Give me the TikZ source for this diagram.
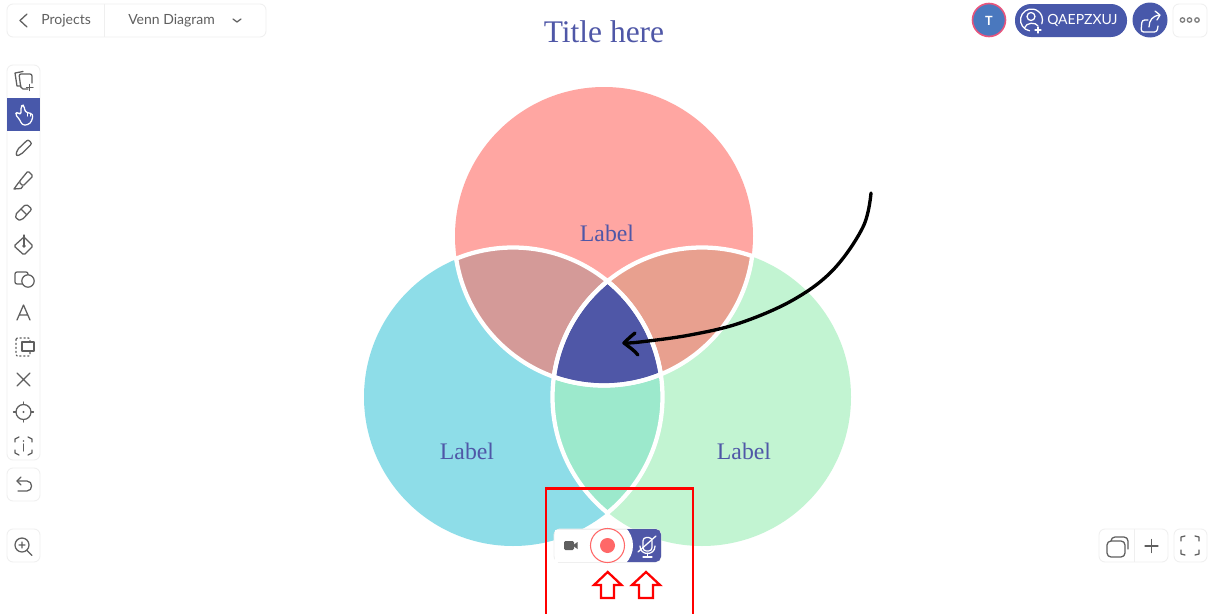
\documentclass[tikz,border=0pt]{standalone}
\usepackage{fontspec}
\setmainfont{Liberation Serif}
\newfontfamily\uifont{Lato}
\definecolor{navy}{HTML}{4F57A7}
\definecolor{pill}{HTML}{4858AA}
\definecolor{pinkc}{HTML}{FFA6A2}
\definecolor{cyanc}{HTML}{8EDDE8}
\definecolor{greenc}{HTML}{C2F4D2}
\definecolor{tl}{HTML}{D49A98}
\definecolor{tr}{HTML}{E8A08F}
\definecolor{lr}{HTML}{9CE9CC}
\definecolor{icon}{HTML}{5F5F5F}
\definecolor{frame}{HTML}{EFEFEF}
\definecolor{recc}{HTML}{FF6868}
\definecolor{avatar}{HTML}{4A78BE}
\definecolor{avring}{HTML}{E8557D}
\newcommand{\topc}{(604,236) circle (149)}
\newcommand{\leftc}{(513,397) circle (149)}
\newcommand{\rightc}{(702,397) circle (149)}
\newcommand{\topw}{(604,236) circle (149.5)}
\newcommand{\leftw}{(513,397) circle (149.5)}
\newcommand{\rightw}{(702,397) circle (149.5)}
\newcommand{\topk}{(604,236) circle (151.5)}
\newcommand{\leftk}{(513,397) circle (151.5)}
\newcommand{\rightk}{(702,397) circle (151.5)}
\tikzset{
  panel/.style={draw=frame,fill=white,line width=0.6pt,rounded corners=4.5},
  ic/.style={draw=icon,line width=0.95pt,line cap=round,line join=round},
  icw/.style={draw=white,line width=0.95pt,line cap=round,line join=round},
  venn/.style={white,line width=3.2pt},
  redline/.style={draw=red,line width=1.9pt},
  redup/.style={draw=red,fill=white,line width=1.7pt,miter limit=10},
  biglabel/.style={text=navy,font=\fontsize{17.8}{20}\selectfont,inner sep=0pt},
  uilabel/.style={text=icon,font=\uifont\fontsize{10.5}{12}\selectfont,inner sep=0pt,anchor=west},
}
\begin{document}
\begin{tikzpicture}[x=0.75pt,y=-0.75pt]
\useasboundingbox (0,0) rectangle (1208,614);
\fill[white] (0,0) rectangle (1208,614);
% Venn fills
\fill[cyanc] \leftc;
\fill[greenc] \rightc;
\fill[pinkc] \topc;
\begin{scope}\clip \topc; \fill[tl] \leftc; \end{scope}
\begin{scope}\clip \topc; \fill[tr] \rightc; \end{scope}
\begin{scope}\clip \leftc; \fill[lr] \rightc; \end{scope}
\begin{scope}\clip \topc; \clip \leftc; \fill[navy] \rightc; \end{scope}
% white borders inside the overlaps
\begin{scope}\clip \leftk; \draw[venn] \topw; \end{scope}
\begin{scope}\clip \rightk; \draw[venn] \topw; \end{scope}
\begin{scope}\clip \topk; \draw[venn] \leftw; \end{scope}
\begin{scope}\clip \rightk; \draw[venn] \leftw; \end{scope}
\begin{scope}\clip \topk; \draw[venn] \rightw; \end{scope}
\begin{scope}\clip \leftk; \draw[venn] \rightw; \end{scope}
% Texts
\node[text=navy,font=\fontsize{23.6}{26}\selectfont,inner sep=0pt] (title) at (604,32) {Title here};
\node[biglabel] (labtop) at (607,233) {Label};
\node[biglabel] (lableft) at (467,451) {Label};
\node[biglabel] (labright) at (744,451) {Label};
% Hand-drawn arrow
\coordinate (arrowstart) at (871,193);
\coordinate (arrowtip) at (624,343);
\draw[black,line width=2.5pt,line cap=round,line join=round]
  plot[smooth,tension=0.6] coordinates {(arrowstart) (863,227) (833,270) (793,300) (740,323) (690,335) (640,342) (arrowtip)};
\draw[black,line width=2.5pt,line cap=round,line join=round]
  (635,333) .. controls (630,337) and (627,340) .. (arrowtip)
  .. controls (629,347) and (634,350) .. (638,355);
% Top-left bar
\draw[panel] (7,4) rectangle (266,37);
\draw[frame,line width=0.6pt] (104,4) -- (104,37);
\draw[ic] (27,14) -- (20,20.5) -- (27,27);
\node[uilabel] (projects) at (41,21) {Projects};
\node[uilabel] (venn) at (128,20.5) {Venn Diagram};
\draw[ic] (233,19) -- (237,22) -- (241,19);
% Left toolbar
\draw[panel] (7,65) rectangle (40,460);
\fill[pill] (7,98) rectangle (40,131);
% add page
\draw[ic] (21,86) -- (17,86) -- (15,73) -- (23,71.5);
\draw[ic,rounded corners=1.5] (28,89) -- (21,89) -- (19,74) -- (32,74) -- (32,83);
\draw[ic] (26.5,87.5) -- (33,87.5) (29.8,84.5) -- (29.8,90.5);
% hand
\draw[icw,rounded corners=2] (20,120) -- (15,114) -- (18,112) -- (21,115) -- (21,106) -- (24,105) -- (25,112) -- (33,114) -- (32,121) -- (28,125) -- (22,125) -- cycle;
\draw[icw] (27.5,112.5) -- (27.5,116) (30.5,113.5) -- (30.5,116);
% pen
\draw[ic,rounded corners=1.5] (16,156) -- (17,150) -- (28,139.5) -- (32,143.5) -- (21,154.5) -- cycle;
% highlighter
\draw[ic,rounded corners=1] (19,182) -- (28,171) -- (33,176) -- (23,186) -- cycle;
\draw[ic] (19,182) -- (14,189) -- (21,188.5) -- (23,186);
% eraser
\draw[ic,rounded corners=1.5] (15,215) -- (26,204) -- (32,209) -- (22,220) -- (17,220) -- cycle;
\draw[ic] (21,209) -- (27,215);
% fill bucket
\draw[ic,rounded corners=1] (14,246) -- (24,237) -- (33,246) -- (24,255) -- cycle;
\draw[ic] (24,235) -- (24,246);
\fill[icon] (24,246) circle (1.8);
% shapes
\draw[ic,rounded corners=1.5] (15,272) rectangle (28,284);
\fill[white] (28,281) circle (6.2);
\draw[ic] (28,281) circle (6.2);
% letter A
\draw[ic] (17,320) -- (23.5,305) -- (30,320) (19.5,315) -- (27.5,315);
% selection
\draw[ic,dotted,rounded corners=1] (16,338) rectangle (30,356);
\fill[white] (22,342) rectangle (34,351);
\draw[ic] (22,342) rectangle (34,351);
% cross
\draw[ic] (17,373) -- (30,386) (30,373) -- (17,386);
% target
\draw[ic] (23.5,412) circle (7.5);
\fill[icon] (23.5,412) circle (1.2);
\draw[ic] (23.5,402) -- (23.5,404.5) (23.5,419.5) -- (23.5,422) (13.5,412) -- (16,412) (31,412) -- (33.5,412);
% info frame
\draw[ic] (15,442) -- (15,439) -- (19,437) (28,437) -- (32,439) -- (32,442) (15,450) -- (15,453) -- (19,455) (28,455) -- (32,453) -- (32,450);
\draw[ic] (23.5,444) -- (23.5,451);
\fill[icon] (23.5,441) circle (0.9);
% undo box
\draw[panel] (7,468) rectangle (40,501);
\draw[ic] (21,477) -- (17,481) -- (21,485);
\draw[ic] (17,481) -- (27,481) .. controls (33,481) and (33,491) .. (27,491) -- (18,491);
% zoom box
\draw[panel] (7,529) rectangle (40,562);
\draw[ic] (22,545) circle (7);
\draw[ic] (27,550.5) -- (32,555.5) (19,545) -- (25,545) (22,542) -- (22,548);
% Top-right
\draw[fill=avatar,draw=avring,line width=1.2pt] (989,20) circle (16.5);
\node[text=white,font=\uifont\bfseries\fontsize{9.5}{10}\selectfont,inner sep=0pt] (tee) at (989,20.5) {T};
\fill[pill,rounded corners=12] (1015,4) rectangle (1127,37);
\draw[icw] (1029.6,30.8) arc (100:380:11);
\draw[icw] (1031,16.5) circle (4);
\draw[icw] (1024.5,28) .. controls (1026,22) and (1036,22) .. (1038,26);
\draw[icw] (1035,30) -- (1041,30) (1038,27) -- (1038,33);
\node[uilabel,text=white] (code) at (1047,20.5) {QAEPZXUJ};
\fill[pill] (1150,20) circle (17.5);
\draw[icw,rounded corners=2] (1148,20) -- (1142,20) -- (1141,32) -- (1157,32) -- (1158,26);
\draw[icw] (1149,27) .. controls (1149,20) and (1153,16) .. (1159,15);
\draw[icw] (1155,11) -- (1160,15) -- (1157,20);
\draw[panel] (1173,4) rectangle (1207,37);
\foreach \ex in {1182.5,1189.5,1197}{\draw[draw=icon!80,line width=1pt] (\ex,20) circle (2.2);}
% Bottom-right
\draw[panel] (1099,529) rectangle (1168,562);
\draw[frame,line width=0.6pt] (1134,529) -- (1134,562);
\draw[ic,rounded corners=3] (1107,541) rectangle (1125,557);
\draw[ic,rounded corners=3] (1111,541) -- (1111,537) -- (1128,537) -- (1128,549);
\draw[ic] (1145,546) -- (1158,546) (1151.5,539.5) -- (1151.5,552.5);
\draw[panel] (1174,529) rectangle (1207,562);
\draw[ic] (1181,541) -- (1181,537) -- (1185,536) (1195,536) -- (1199,537) -- (1199,541) (1181,550) -- (1181,554) -- (1185,555) (1195,555) -- (1199,554) -- (1199,550);
% Recording bar
\draw[panel] (554,529) rectangle (661,562);
\fill[navy,rounded corners=4] (600,529) rectangle (661,562);
\fill[white] (554.5,529.5) rectangle (622,561.5);
\begin{scope}
\clip (600,529) rectangle (640,562);
\fill[white] (607.5,545.5) circle (25.5);
\end{scope}
\draw[draw=frame,line width=0.6pt] (558,529) -- (627,529) (558,562) -- (627,562);
\draw[draw=recc,line width=0.8pt] (607.5,545.5) circle (17);
\fill[recc] (607.5,545.5) circle (7.5);
\fill[icon,rounded corners=1] (564,541) rectangle (574,550);
\fill[icon] (574,544.5) -- (577.5,542) -- (577.5,549) -- (574,546.5) -- cycle;
\draw[icw,rounded corners=2.5] (643,537.5) rectangle (652,551);
\draw[icw] (640,546) .. controls (640,556) and (655,556) .. (655,546);
\draw[icw] (647.5,553) -- (647.5,556.5) (643,557) -- (652,557);
\draw[icw] (638,552) -- (656,536);
% Red frame
\draw[redline] (546,620) -- (546,488.5) -- (693,488.5) -- (693,620);
% Red up arrows
\draw[redup] (607.7,572) -- (621.5,585) -- (614,585) -- (614,598) -- (601,598) -- (601,585) -- (594,585) -- cycle;
\draw[redup] (646,572) -- (660,585) -- (653,585) -- (653,598) -- (639,598) -- (639,585) -- (632,585) -- cycle;
\end{tikzpicture}
\end{document}
